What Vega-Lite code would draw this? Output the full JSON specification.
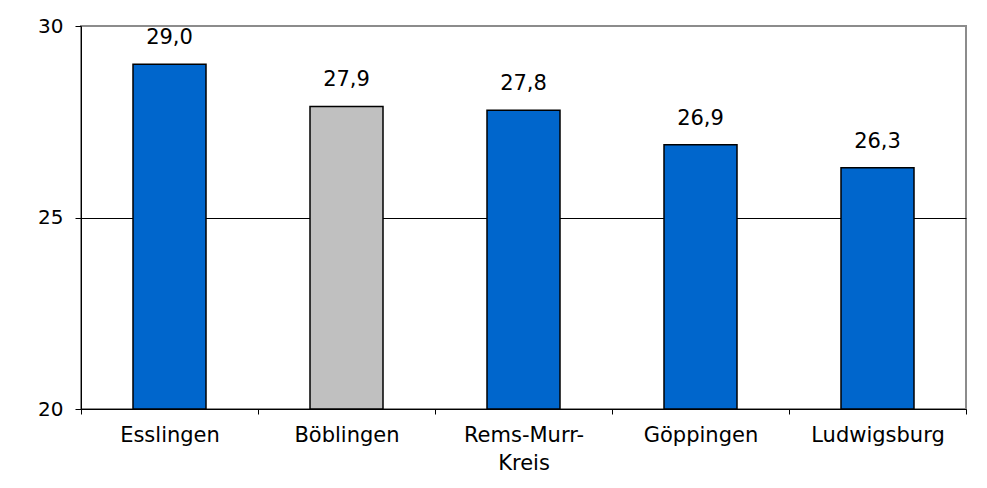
{
  "$schema": "https://vega.github.io/schema/vega-lite/v6.json",
  "autosize": {"type": "none"},
  "padding": {"left": 81, "top": 26, "right": 21, "bottom": 79},
  "width": 885,
  "height": 383,
  "background": "white",
  "config": {
    "view": {"stroke": "#8c8c8c", "strokeWidth": 2},
    "locale": {"number": {"decimal": ",", "thousands": ".", "grouping": [3], "currency": ["", " €"]}},
    "font": "DejaVu Sans"
  },
  "data": {
    "values": [
      {"kreis": "Esslingen", "wert": 29.0, "gruppe": "a"},
      {"kreis": "Böblingen", "wert": 27.9, "gruppe": "b"},
      {"kreis": "Rems-Murr-Kreis", "wert": 27.8, "gruppe": "a"},
      {"kreis": "Göppingen", "wert": 26.9, "gruppe": "a"},
      {"kreis": "Ludwigsburg", "wert": 26.3, "gruppe": "a"}
    ]
  },
  "encoding": {
    "x": {
      "field": "kreis", "type": "nominal", "sort": null, "title": null,
      "scale": {"paddingInner": 0, "paddingOuter": 0},
      "axis": {
        "labelAngle": 0, "labelFontSize": 21, "labelColor": "black", "labelFont": "DejaVu Sans",
        "labelPadding": 10, "labelLineHeight": 28,
        "labelExpr": "datum.label == 'Rems-Murr-Kreis' ? ['Rems-Murr-', 'Kreis'] : datum.label",
        "tickBand": "extent", "tickSize": 5, "tickColor": "black", "domainColor": "black",
        "domainWidth": 1, "grid": false
      }
    },
    "y": {
      "field": "wert", "type": "quantitative", "title": null,
      "scale": {"domain": [20, 30], "nice": false, "zero": false},
      "axis": {
        "values": [20, 25, 30], "format": "d", "labelFontSize": 20, "labelColor": "black",
        "labelPadding": 12, "tickSize": 6, "tickColor": "black", "domainColor": "black",
        "grid": true,
        "gridColor": {"condition": {"test": "datum.value === 25", "value": "black"}, "value": "transparent"},
        "gridWidth": 1
      }
    }
  },
  "layer": [
    {
      "mark": {"type": "bar", "width": 73, "stroke": "black", "strokeWidth": 1.5},
      "encoding": {
        "y2": {"datum": 20},
        "color": {
          "field": "gruppe", "type": "nominal", "legend": null,
          "scale": {"domain": ["a", "b"], "range": ["#0066CC", "#C0C0C0"]}
        }
      }
    },
    {
      "mark": {"type": "text", "dy": -20, "baseline": "alphabetic", "fontSize": 21, "color": "black", "font": "DejaVu Sans"},
      "encoding": {
        "text": {"field": "wert", "type": "quantitative", "format": ".1f"}
      }
    }
  ]
}
